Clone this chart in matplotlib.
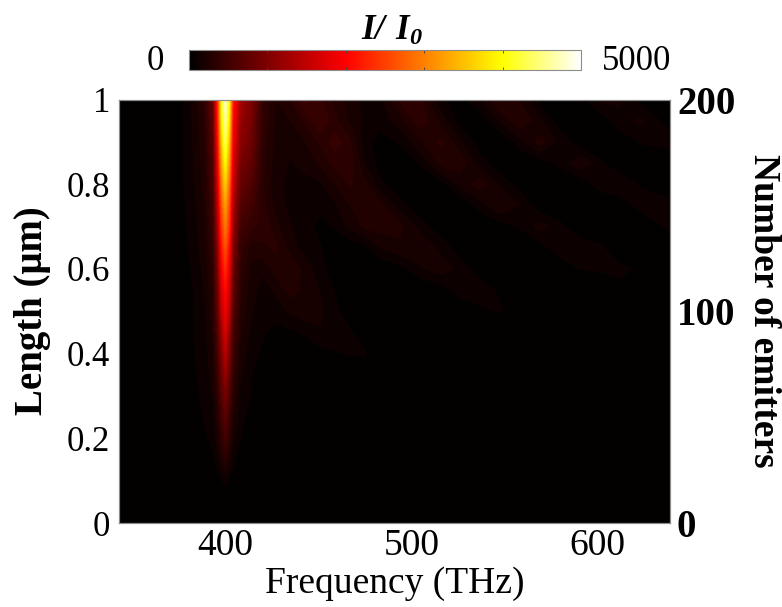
import numpy as np
import matplotlib
matplotlib.use("Agg")
import matplotlib.pyplot as plt
from matplotlib.colors import LinearSegmentedColormap, Normalize
from matplotlib.cm import ScalarMappable

plt.rcParams['font.family'] = ['Liberation Serif', 'DejaVu Serif']
plt.rcParams['mathtext.fontset'] = 'custom'
plt.rcParams['mathtext.bfit'] = 'Liberation Serif:italic:bold'
plt.rcParams['mathtext.rm'] = 'Liberation Serif'

frequency = [343, 370, 378, 384, 389, 393.5, 396, 398, 400, 402, 404, 408, 413.5, 420, 427, 435, 443, 451,
             459, 467, 475, 483, 494, 505, 516, 526, 537, 548, 559, 569, 580, 591, 602, 612, 623, 639]
length = [1.0, .95, .9, .85, .8, .75, .7, .65, .6, .55, .5, .45, .4, .35, .3, .25, .2, .15, .1, .05, 0.0]
intensity = [
 [0,0,85,200,350,800,2300,3950,4800,3950,2200,1300,1000,400,230,300,500,400,280,200,130,130,330,320,90,50,150,330,220,40,0,40,170,170,50,0],
 [0,0,85,190,330,750,2150,3800,4600,3750,2050,1200,950,380,220,230,330,470,330,220,130,100,200,370,200,40,20,170,300,170,20,0,30,130,170,30],
 [0,0,85,180,300,680,2000,3500,4300,3450,1900,1100,880,360,200,170,230,330,430,330,100,50,85,220,330,170,30,0,130,270,130,20,0,10,85,120],
 [0,0,85,170,280,620,1800,3200,3950,3150,1700,950,780,340,190,150,180,250,340,370,150,40,10,90,260,290,110,10,0,20,100,220,90,0,0,0],
 [0,0,80,160,260,560,1650,2900,3550,2800,1550,800,650,320,180,130,130,140,230,320,260,100,10,0,40,170,280,140,20,0,0,20,120,150,70,0],
 [0,0,70,150,240,500,1450,2600,3200,2550,1350,650,520,350,200,130,110,100,140,230,290,270,110,10,0,10,110,240,150,20,0,0,0,20,110,110],
 [0,0,60,140,220,450,1300,2350,2900,2350,1200,520,400,380,260,160,110,50,85,180,250,270,250,120,20,0,0,20,90,190,100,0,0,0,0,100],
 [0,0,50,130,200,400,1100,2100,2600,2050,1000,420,280,280,330,200,110,85,20,10,50,150,220,220,130,30,0,0,0,30,140,130,90,0,0,0],
 [0,0,30,110,180,350,970,1850,2300,1800,880,370,210,170,270,300,200,100,30,0,0,0,40,140,200,130,20,0,0,0,0,80,90,100,60,0],
 [0,0,0,100,160,310,860,1630,2050,1600,770,330,190,120,170,270,210,150,70,0,0,0,0,0,30,110,120,60,0,0,0,0,0,50,10,0],
 [0,0,0,95,145,280,770,1460,1850,1430,680,290,170,110,110,170,210,170,100,20,0,0,0,0,0,10,60,85,20,0,0,0,0,0,0,0],
 [0,0,0,85,130,250,620,1180,1650,1160,550,250,140,90,50,60,90,150,130,90,10,0,0,0,0,0,0,0,0,0,0,0,0,0,0,0],
 [0,0,0,80,120,220,530,1000,1400,980,470,210,110,60,10,10,20,40,70,85,85,0,0,0,0,0,0,0,0,0,0,0,0,0,0,0],
 [0,0,0,70,110,190,440,830,1150,810,390,170,85,30,0,0,0,0,0,0,0,0,0,0,0,0,0,0,0,0,0,0,0,0,0,0],
 [0,0,0,60,100,160,350,650,900,630,310,140,80,10,0,0,0,0,0,0,0,0,0,0,0,0,0,0,0,0,0,0,0,0,0,0],
 [0,0,0,40,90,130,270,510,700,490,240,110,40,0,0,0,0,0,0,0,0,0,0,0,0,0,0,0,0,0,0,0,0,0,0,0],
 [0,0,0,10,60,100,200,380,520,360,180,80,10,0,0,0,0,0,0,0,0,0,0,0,0,0,0,0,0,0,0,0,0,0,0,0],
 [0,0,0,0,10,60,120,230,320,220,100,30,0,0,0,0,0,0,0,0,0,0,0,0,0,0,0,0,0,0,0,0,0,0,0,0],
 [0,0,0,0,0,5,30,70,100,70,30,5,0,0,0,0,0,0,0,0,0,0,0,0,0,0,0,0,0,0,0,0,0,0,0,0],
 [0,0,0,0,0,0,0,10,20,10,0,0,0,0,0,0,0,0,0,0,0,0,0,0,0,0,0,0,0,0,0,0,0,0,0,0],
 [0,0,0,0,0,0,0,0,0,0,0,0,0,0,0,0,0,0,0,0,0,0,0,0,0,0,0,0,0,0,0,0,0,0,0,0],
]
x_ticks = [400, 500, 600]
y_ticks = [0, 0.2, 0.4, 0.6, 0.8, 1]
y_tick_labels = ['0', '0.2', '0.4', '0.6', '0.8', '1']
emitter_ticks = [0, 100, 200]
vmin, vmax = 0, 5000

W, H = 782, 607
fig = plt.figure(figsize=(W / 100, H / 100), dpi=100)

def box(x0, y0, x1, y1):
    return [x0 / W, 1 - y1 / H, (x1 - x0) / W, (y1 - y0) / H]

cmap = LinearSegmentedColormap.from_list(
    'hotlike', [(0, 'black'), (0.4, '#ff0000'), (0.8, '#ffff00'), (1, 'white')], N=256)
norm = Normalize(vmin, vmax)
grey = '#8c8c8c'

ax = fig.add_axes(box(118.5, 99.5, 670, 523))
ax.contourf(frequency, length, np.array(intensity, float), levels=np.arange(0, 5001, 78),
            cmap=cmap, norm=norm, antialiased=False, extend='max')
ax.set_xlim(342.6, 639.0)
ax.set_ylim(0, 1)
ax.set_xticks(x_ticks)
ax.set_yticks(y_ticks)
ax.set_yticklabels(y_tick_labels)
ax.tick_params(length=0, labelsize=25, pad=6)
ax.tick_params(axis='x', labelsize=27, pad=4)
for s in ax.spines.values():
    s.set_color(grey)
    s.set_linewidth(0.8)

ax2 = ax.twinx()
ax2.set_ylim(0, 200)
ax2.set_yticks(emitter_ticks)
ax2.tick_params(length=0, labelsize=28, pad=5)
for t in ax2.get_yticklabels():
    t.set_fontweight('bold')
for s in ax2.spines.values():
    s.set_color(grey)
    s.set_linewidth(0.8)

fig.text(395 / W, 1 - 584 / H, 'Frequency (THz)', fontsize=27, ha='center', va='center')
fig.text(33 / W, 1 - 311 / H, 'Length (μm)', fontsize=28, fontweight='bold',
         rotation=90, ha='center', va='center')
fig.text(763 / W, 1 - 311 / H, 'Number of emitters', fontsize=27, fontweight='bold',
         rotation=270, ha='center', va='center')

cax = fig.add_axes(box(189, 50, 581, 70))
cb = fig.colorbar(ScalarMappable(norm=norm, cmap=cmap), cax=cax, orientation='horizontal')
cb.set_ticks([1000, 2000, 3000, 4000])
cb.set_ticklabels([])
cax.tick_params(direction='in', length=2.5, width=0.6, color='#404040', top=True, bottom=True)
cb.outline.set_edgecolor(grey)
cb.outline.set_linewidth(0.8)
fig.text(155 / W, 1 - 62 / H, '0', fontsize=25, ha='center', va='center')
fig.text(637 / W, 1 - 62 / H, '5000', fontsize=25, ha='center', va='center')
fig.text(392 / W, 1 - 31 / H, r'$\mathbfit{I/\ I_0}$', fontsize=25, ha='center', va='center')

fig.savefig('out.png', dpi=100)
